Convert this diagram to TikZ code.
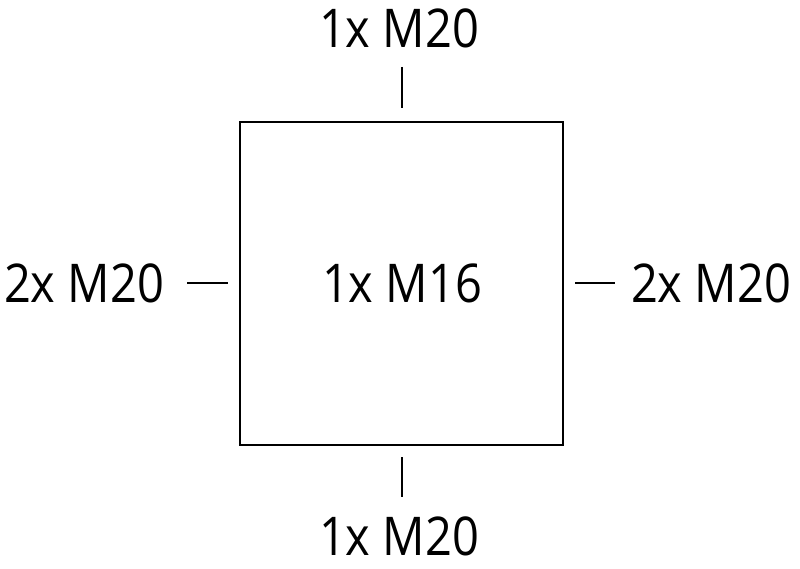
\documentclass[tikz,border=0pt]{standalone}
\usepackage{fontspec}
\setmainfont{Open Sans}[FakeStretch=0.88]
\usetikzlibrary{positioning}

\begin{document}
\begin{tikzpicture}[x=0.025cm, y=-0.025cm]
    \tikzset{
        housing/.style={draw=black, line width=1.5pt, minimum width=8.07cm, minimum height=8.07cm, inner sep=0pt},
        tick/.style={line width=1.8pt},
        gland_label/.style={font=\fontsize{38}{40}\selectfont, anchor=base, inner sep=0pt}
    }
    \useasboundingbox (0,0) rectangle (800,569);

    \node[housing] (box) at (401.5, 283.5) {};
    \node[gland_label] (centre) at (402, 303) {1x M16};

    % top
    \coordinate (T_a) at (402, 67);
    \coordinate (T_b) at (402, 108);
    \draw[tick] (T_a) -- (T_b);
    \node[gland_label] (top) at (399, 48) {1x M20};

    % bottom
    \coordinate (B_a) at (402, 457);
    \coordinate (B_b) at (402, 497);
    \draw[tick] (B_a) -- (B_b);
    \node[gland_label] (bottom) at (399, 555) {1x M20};

    % left
    \coordinate (L_a) at (187, 283);
    \coordinate (L_b) at (228, 283);
    \draw[tick] (L_a) -- (L_b);
    \node[gland_label] (left) at (84, 303) {2x M20};

    % right
    \coordinate (R_a) at (575, 283);
    \coordinate (R_b) at (615, 283);
    \draw[tick] (R_a) -- (R_b);
    \node[gland_label] (right) at (711, 303) {2x M20};
\end{tikzpicture}
\end{document}
